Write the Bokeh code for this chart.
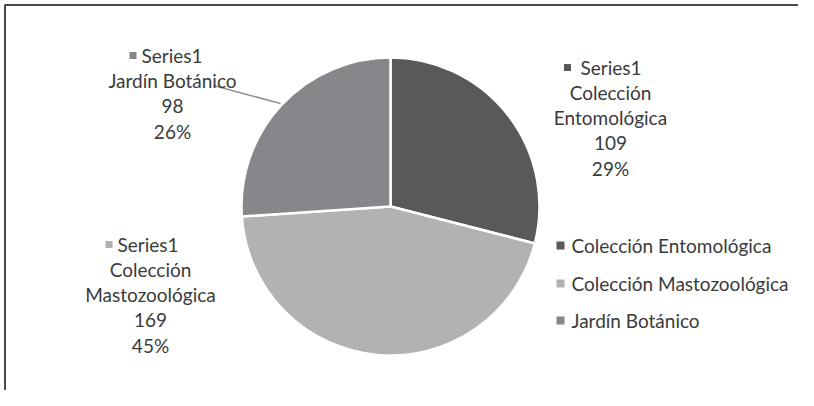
import numpy as np
from bokeh.plotting import figure
from bokeh.models import ColumnDataSource
from bokeh.core.properties import value
from bokeh.embed import file_html
from bokeh.resources import INLINE

# ---- data ----
categories = ["Colección Entomológica", "Colección Mastozoológica", "Jardín Botánico"]
label_lines = [["Colección", "Entomológica"], ["Colección", "Mastozoológica"], ["Jardín Botánico"]]
values = [109, 169, 98]
series_name = "Series1"
colors = ["#58595b", "#b1b2b4", "#86878b"]

W, H = 798, 390
FONT = "Lato"
FS = "19px"
TXT = "#3a3a3a"

def fx(x):  # reference pixel -> data x
    return x

def fy(y):  # reference pixel -> data y
    return H - y

p = figure(width=W, height=H, x_range=(0, W), y_range=(0, H),
           output_backend="svg", toolbar_location=None, min_border=0)
p.axis.visible = False
p.grid.visible = False
p.outline_line_color = None
p.background_fill_color = "white"
p.border_fill_color = "white"

# frame lines (top and left)
p.line([fx(4.5), fx(4.5), W], [0, fy(4.5), fy(4.5)], line_color="#4a4a4a", line_width=2)

# ---- pie ----
vals = np.array(values, dtype=float)
frac = vals / vals.sum()
cum = np.concatenate([[0], np.cumsum(frac)])
start = np.pi / 2 - cum[:-1] * 2 * np.pi
end = np.pi / 2 - cum[1:] * 2 * np.pi
cx, cy, r = fx(390), fy(206), 149
src = ColumnDataSource(dict(start=start, end=end, color=colors, cat=categories))
p.wedge(x=cx, y=cy, radius=r, start_angle="start", end_angle="end",
        direction="clock", fill_color="color", line_color="white", line_width=2.5,
        source=src)

# leader line for Jardín Botánico
p.line([fx(213), fx(280)], [fy(85), fy(103)], line_color="#909090", line_width=1.5)

# ---- data labels ----
pcts = [f"{round(f * 100):d}%" for f in frac]
# (center x, first-line y, marker x, series text x) in reference px
label_pos = [(610, 67, 567, 580), (150, 244, 108.5, 117), (172, 55, 132.5, 141)]
LS = 25.2
for i, (lx, ly, mx, sx) in enumerate(label_pos):
    p.scatter([fx(mx)], [fy(ly)], marker="square", size=7, fill_color=colors[i], line_color=None)
    p.text([fx(sx)], [fy(ly)], text=[series_name], text_font=value(FONT), text_font_size=FS,
           text_color=TXT, text_align="left", text_baseline="middle")
    lines = label_lines[i] + [str(values[i]), pcts[i]]
    ys = [fy(ly + LS * (k + 1)) for k in range(len(lines))]
    p.text([fx(lx)] * len(lines), ys, text=lines, text_font=value(FONT), text_font_size=FS,
           text_color=TXT, text_align="center", text_baseline="middle")

# ---- legend ----
leg_y = [245, 283, 320]
p.scatter([fx(560)] * 3, [fy(y) for y in leg_y], marker="square", size=8,
          fill_color=colors, line_color=None)
p.text([fx(571)] * 3, [fy(y) for y in leg_y], text=categories, text_font=value(FONT),
       text_font_size=FS, text_color=TXT, text_align="left", text_baseline="middle")

open("out.html", "w").write(file_html(p, INLINE))
